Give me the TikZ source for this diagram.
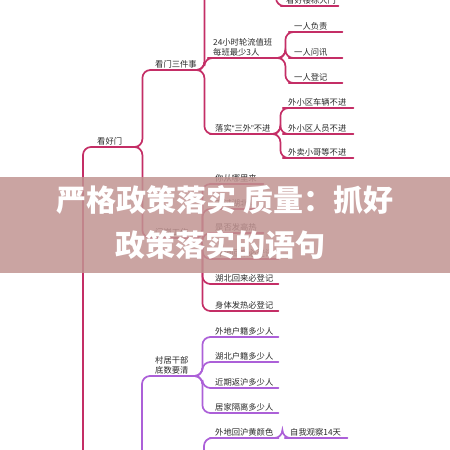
\documentclass[tikz,border=0pt]{standalone}
\usepackage{fontspec}
\setmainfont{Noto Sans CJK SC}
\newfontfamily\quotefont{Liberation Sans}
\usepackage{tikz}
\usetikzlibrary{positioning,calc}
\definecolor{mapred}{RGB}{196,46,102}
\definecolor{mappurple}{RGB}{172,96,216}
\definecolor{bandcolor}{RGB}{193,148,146}
\definecolor{txtcolor}{RGB}{40,40,40}

\begin{document}
\begin{tikzpicture}[
  x=1pt, y=-1pt,
  item/.style     = {anchor=south west, inner xsep=5pt, inner ysep=1.5pt,
                     font=\fontsize{8.3}{10.3}\selectfont, text=txtcolor, align=left},
  link/.style     = {line width=1.7pt, rounded corners=8pt, line cap=round},
  headline/.style = {font=\fontsize{30}{32}\selectfont\bfseries, text=white}
]
\useasboundingbox (0,0) rectangle (450,450);
\clip (0,0) rectangle (450,450);

% red branch
\coordinate (root) at (79,520);
\coordinate (upl) at (210,-25);
\coordinate (upr) at (272,-25);

\node[item, text width=36pt] (khm)   at (92,147)  {看好门};
\node[item, text width=40pt] (kmsjs) at (150,70)  {看门三件事};
\node[item, text width=38pt] (mggz)  at (150,238) {门岗工作};
\node[item, text width=63pt] (zbs)   at (208,58)  {24小时轮流值班\\每班最少3人};
\node[item, text width=56pt] (lssw)  at (210,134) {落实{\quotefont “}三外{\quotefont ”}不进};
\node[item, text width=47pt] (khldm) at (281,6)   {看好楼栋大门};

\foreach \nm/\yy/\txt in {yrfz/32/一人负责, yrwx/58/一人问讯, yrdj/83/一人登记}
  \node[item, text width=43pt] (\nm) at (289,\yy) {\txt};

\foreach \nm/\yy/\txt in {wxcl/108/外小区车辆不进, wxry/134/外小区人员不进,
                          wmxg/158/外卖小哥等不进}
  \node[item, text width=60pt] (\nm) at (283,\yy) {\txt};

\foreach \nm/\yy/\w/\txt in {nclq/184/43/你从哪里来, qghb/209/43/去过湖北吗,
                             sffr/233/43/是否发高热, wdhl/259/58/外地回来必登记,
                             hbhl/284/58/湖北回来必登记, stfr/311/58/身体发热必登记}
  \node[item, text width=\w pt] (\nm) at (210,\yy) {\txt};

\draw[link, mapred] (root) -- ++(4,0) |- (khm.south west);
\draw[link, mapred] (kmsjs.south east) -- ++(4,0) |- (upl);
\draw[link, mapred] (upl) -- (upr) -- ++(4,0) |- (khldm.south west);

\foreach \p/\c in {khm/kmsjs, khm/mggz, kmsjs/zbs, kmsjs/lssw,
                   zbs/yrfz, zbs/yrwx, zbs/yrdj,
                   lssw/wxcl, lssw/wxry, lssw/wmxg,
                   mggz/nclq, mggz/qghb, mggz/sffr, mggz/wdhl, mggz/hbhl, mggz/stfr}
  \draw[link, mapred] (\p.south east) -- ++(4,0) |- (\c.south west);

\foreach \n in {khm,kmsjs,mggz,zbs,lssw,khldm,yrfz,yrwx,yrdj,wxcl,wxry,wmxg,
                nclq,qghb,sffr,wdhl,hbhl,stfr}
  \draw[link, mapred] (\n.south west) -- (\n.south east);

% purple branch
\coordinate (lvlb) at (138,520);
\coordinate (purl) at (150,490);
\coordinate (purr) at (200,490);

\node[item, text width=38pt] (cjgb) at (150,376) {村居干部\\底数要清};
\foreach \nm/\yy/\txt in {whhj/337/外地户籍多少人, hbhj/362/湖北户籍多少人,
                          jqfh/388/近期返沪多少人, jjgl/413/居家隔离多少人}
  \node[item, text width=58pt] (\nm) at (210,\yy) {\txt};
\node[item, text width=58pt] (whhs) at (210,438) {外地回沪黄颜色};
\node[item, text width=52pt] (zwgc) at (285,438) {自我观察14天};

\draw[link, mappurple] (lvlb) -- ++(4,0) |- (cjgb.south west);
\draw[link, mappurple] (lvlb) -- ++(4,0) |- (purl) -- (purr);
\draw[link, mappurple] (purr) -- ++(4,0) |- (whhs.south west);

\foreach \p/\c in {cjgb/whhj, cjgb/hbhj, cjgb/jqfh, cjgb/jjgl, whhs/zwgc}
  \draw[link, mappurple] (\p.south east) -- ++(4,0) |- (\c.south west);

\foreach \n in {cjgb,whhj,hbhj,jqfh,jjgl,whhs,zwgc}
  \draw[link, mappurple] (\n.south west) -- (\n.south east);

% title band
\fill[bandcolor, opacity=0.85] (0,177) rectangle (450,273);
\node[headline] (hd1) at (225,200) {严格政策落实 质量：抓好};
\node[headline] (hd2) at (220,245) {政策落实的语句};
\end{tikzpicture}
\end{document}
